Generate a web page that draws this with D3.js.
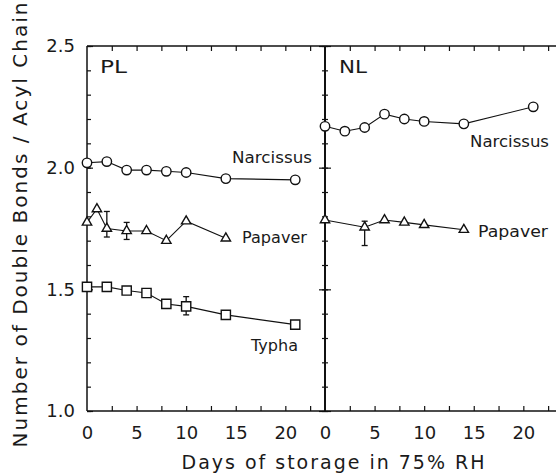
<!DOCTYPE html>
<html>
<head>
<meta charset="utf-8">
<script src="https://cdn.jsdelivr.net/npm/d3@7"></script>
<style>
  body { margin: 0; background: #fff; }
  svg { display: block; }
  text { font-family: "DejaVu Sans", sans-serif; fill: #1a1a1a; }
</style>
</head>
<body>
<svg width="556" height="476"></svg>
<script>
// data
const plDays = [0, 2, 4, 6, 8, 10, 14, 21];
const plNarcissus = [2.02, 2.025, 1.99, 1.99, 1.985, 1.98, 1.955, 1.95];
const plPapaverDays = [0, 1, 2, 4, 6, 8, 10, 14];
const plPapaver = [1.775, 1.83, 1.75, 1.74, 1.74, 1.70, 1.78, 1.71];
const plTypha = [1.51, 1.51, 1.495, 1.485, 1.44, 1.43, 1.395, 1.355];
const nlDays = [0, 2, 4, 6, 8, 10, 14, 21];
const nlNarcissus = [2.17, 2.15, 2.165, 2.22, 2.20, 2.19, 2.18, 2.25];
const nlPapaverDays = [0, 4, 6, 8, 10, 14];
const nlPapaver = [1.785, 1.755, 1.785, 1.775, 1.765, 1.745];
// error bars: [day, low, high]
const plPapaverErr = [[2, 1.715, 1.82], [4, 1.705, 1.775]];
const plTyphaErr = [[10, 1.395, 1.47]];
const nlPapaverErr = [[4, 1.68, 1.78]];
const yTicks = [1.0, 1.5, 2.0, 2.5];
const xTicks = [0, 5, 10, 15, 20];

const svg = d3.select('svg');
const yTop = 46, yBottom = 411;
const y = d3.scaleLinear().domain([1, 2.5]).range([yBottom, yTop]);
const xL = d3.scaleLinear().domain([0, 24]).range([87, 325]);
const xR = d3.scaleLinear().domain([0, 24]).range([325, 563]);

const minorY = d3.range(10, 26).map(d => d / 10);
const minorX = d3.range(0, 24, 2.5);

function styleAxis(sel) {
  sel.select('.domain').remove();
  sel.selectAll('line').attr('stroke', '#111').attr('stroke-width', 1.2);
  sel.selectAll('text').attr('font-size', 18).attr('fill', '#1a1a1a')
    .attr('font-family', '"DejaVu Sans", sans-serif');
}

// left axis
svg.append('g').attr('transform', `translate(${xL(0)},0)`)
  .call(d3.axisLeft(y).tickValues(minorY).tickSize(-4).tickFormat(''))
  .call(styleAxis);
svg.append('g').attr('transform', `translate(${xL(0)},0)`)
  .call(d3.axisLeft(y).tickValues(yTicks).tickSize(-6).tickPadding(12).tickFormat(d3.format('.1f')))
  .call(styleAxis);

// middle divider with crossing ticks
svg.append('g').attr('transform', `translate(${xR(0)},0)`)
  .call(d3.axisLeft(y).tickValues(minorY).tickSize(3).tickFormat(''))
  .call(styleAxis);
svg.append('g').attr('transform', `translate(${xR(0)},0)`)
  .call(d3.axisRight(y).tickValues(minorY).tickSize(3).tickFormat(''))
  .call(styleAxis);
svg.append('g').attr('transform', `translate(${xR(0)},0)`)
  .call(d3.axisLeft(y).tickValues(yTicks).tickSize(6).tickFormat(''))
  .call(styleAxis);
svg.append('g').attr('transform', `translate(${xR(0)},0)`)
  .call(d3.axisRight(y).tickValues(yTicks).tickSize(6).tickFormat(''))
  .call(styleAxis);

// top and bottom axes, both panels
[xL, xR].forEach(x => {
  svg.append('g').attr('transform', `translate(0,${yTop})`)
    .call(d3.axisTop(x).tickValues(minorX.filter(d => d > 0)).tickSize(-5).tickFormat(''))
    .call(styleAxis);
  svg.append('g').attr('transform', `translate(0,${yBottom})`)
    .call(d3.axisBottom(x).tickValues(minorX.filter(d => d > 0)).tickSize(-5).tickFormat(''))
    .call(styleAxis);
  svg.append('g').attr('transform', `translate(0,${yBottom})`)
    .call(d3.axisBottom(x).tickValues(xTicks).tickSize(0).tickPadding(15))
    .call(styleAxis);
});

// frame
svg.append('line').attr('x1', xL(0)).attr('x2', 556).attr('y1', yTop).attr('y2', yTop)
  .attr('stroke', '#111').attr('stroke-width', 1.5);
svg.append('line').attr('x1', xL(0)).attr('x2', 556).attr('y1', yBottom).attr('y2', yBottom)
  .attr('stroke', '#111').attr('stroke-width', 1.5);
svg.append('line').attr('x1', xL(0)).attr('x2', xL(0)).attr('y1', yTop).attr('y2', yBottom)
  .attr('stroke', '#111').attr('stroke-width', 1.5);
svg.append('line').attr('x1', xR(0)).attr('x2', xR(0)).attr('y1', yTop).attr('y2', yBottom)
  .attr('stroke', '#111').attr('stroke-width', 2);

// series
function drawSeries(x, days, vals, shape, errs) {
  const pts = days.map((d, i) => [x(d), y(vals[i])]);
  svg.append('path')
    .attr('d', d3.line()(pts))
    .attr('fill', 'none').attr('stroke', '#111').attr('stroke-width', 1.1);
  (errs || []).forEach(([d, lo, hi]) => {
    const g = svg.append('g').attr('stroke', '#111').attr('stroke-width', 1.3);
    g.append('line').attr('x1', x(d)).attr('x2', x(d)).attr('y1', y(lo)).attr('y2', y(hi));
    g.append('line').attr('x1', x(d) - 3).attr('x2', x(d) + 3).attr('y1', y(lo)).attr('y2', y(lo));
    g.append('line').attr('x1', x(d) - 3).attr('x2', x(d) + 3).attr('y1', y(hi)).attr('y2', y(hi));
  });
  const sym = d3.symbol().type(shape).size(shape === d3.symbolCircle ? 70 : shape === d3.symbolSquare ? 85 : 38);
  svg.append('g').selectAll('path').data(pts).join('path')
    .attr('transform', d => `translate(${d[0]},${d[1]})`)
    .attr('d', sym)
    .attr('fill', '#fff').attr('stroke', '#111').attr('stroke-width', 1.4);
}

drawSeries(xL, plDays, plNarcissus, d3.symbolCircle);
drawSeries(xL, plPapaverDays, plPapaver, d3.symbolTriangle, plPapaverErr);
drawSeries(xL, plDays, plTypha, d3.symbolSquare, plTyphaErr);
drawSeries(xR, nlDays, nlNarcissus, d3.symbolCircle);
drawSeries(xR, nlPapaverDays, nlPapaver, d3.symbolTriangle, nlPapaverErr);

// labels
function label(txt, x, yy, size, len) {
  return svg.append('text').attr('x', x).attr('y', yy).attr('font-size', size)
    .attr('textLength', len).attr('lengthAdjust', 'spacingAndGlyphs').text(txt);
}
label('PL', 100, 73, 18, 27);
label('NL', 339, 73, 18, 28);
label('Narcissus', 232, 163, 15, 80);
label('Narcissus', 470, 147, 15, 79);
label('Papaver', 242, 243, 15, 65);
label('Papaver', 478, 237, 15, 70);
label('Typha', 251, 351, 15, 47);

svg.append('text')
  .attr('x', 333).attr('y', 469)
  .attr('text-anchor', 'middle').attr('font-size', 19)
  .attr('textLength', 303).attr('lengthAdjust', 'spacing')
  .text('Days of storage in 75% RH');

svg.append('text')
  .attr('transform', 'translate(27,225) rotate(-90)')
  .attr('text-anchor', 'middle').attr('font-size', 20)
  .attr('textLength', 445).attr('lengthAdjust', 'spacing')
  .text('Number of Double Bonds / Acyl Chain');
</script>
</body>
</html>
